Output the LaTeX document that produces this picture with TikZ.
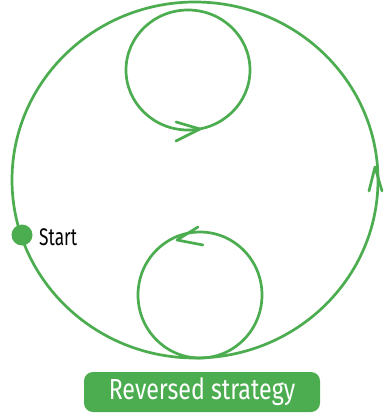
\documentclass[tikz,border=0pt]{standalone}
\usepackage{fontspec}
\setmainfont{Fira Sans}
\definecolor{grn}{RGB}{76,173,80}
\begin{document}
\begin{tikzpicture}[x=1pt,y=-1pt,
  loop/.style={draw=grn,line width=2.7pt},
  chev/.style={draw=grn,line width=2.7pt,line cap=round,line join=round}]
\useasboundingbox (0,0) rectangle (383,414);
% big loop
\draw[loop] (195,180) ellipse [x radius=183, y radius=178];
% upper small loop
\draw[loop] (188,70) ellipse [x radius=62, y radius=60];
% lower small loop
\draw[loop] (200,295) ellipse [x radius=62, y radius=63];
% arrow heads
\draw[chev] (176,122) -- (200,129) -- (176,141);
\draw[chev] (198,227) -- (177,240) -- (203,245);
\draw[chev] (369,191) -- (375,167) -- (382,191);
% start
\fill[grn] (22,235) circle (10.5);
\node[anchor=west,inner sep=0pt] (start) at (39,237) {\scalebox{0.72}[1]{\fontsize{24}{24}\selectfont Start}};
% label
\node[fill=grn,rounded corners=9pt,minimum width=236pt,minimum height=40pt,inner sep=0pt,text=white] (label) at (202,392)
  {\scalebox{0.8}[1]{\fontsize{29}{29}\selectfont Reversed strategy}};
\end{tikzpicture}
\end{document}
